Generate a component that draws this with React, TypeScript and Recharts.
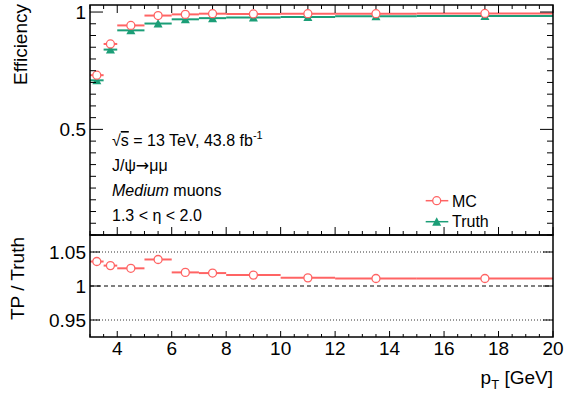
import React from "react";
import { ComposedChart, Scatter, ErrorBar, XAxis, YAxis, ReferenceLine, Legend } from "recharts";

// bin edges in pT [GeV]
const binEdges = [3, 3.5, 4, 5, 6, 7, 8, 10, 12, 15, 20];
const effMC = [0.731, 0.864, 0.943, 0.985, 0.99, 0.993, 0.992, 0.993, 0.993, 0.994];
const effTruth = [0.709, 0.84, 0.922, 0.951, 0.969, 0.974, 0.977, 0.979, 0.982, 0.983];
const ratioTP = [1.036, 1.03, 1.026, 1.039, 1.02, 1.019, 1.016, 1.012, 1.011, 1.011];

const xMajorTicks = [4, 6, 8, 10, 12, 14, 16, 18, 20];
const topYLabels = [0.5, 1];
const ratioYLabels = [0.95, 1, 1.05];

const RED = "#ff6464";
const GREEN = "#1b9e77";
const FONT = "'Liberation Sans', Arial, Helvetica, sans-serif";

const W = 567;
const PL = 90;
const PR = 553;
const TOP_H = 235;
const TOP_Y0 = 5;
const RATIO_TOP = 235;
const RATIO_H = 102;

const xMinor = Array.from({ length: 35 }, (_, i) => 3 + i * 0.5);
const topYTicks = Array.from({ length: 20 }, (_, i) => Math.round((0.05 + i * 0.05) * 100) / 100);

const bins = binEdges.slice(0, -1).map((lo, i) => {
  const hi = binEdges[i + 1];
  return { x: (lo + hi) / 2, xe: (hi - lo) / 2, mc: effMC[i], truth: effTruth[i], ratio: ratioTP[i] };
});

const near = (a: number, list: number[]) => list.some((v) => Math.abs(v - a) < 1e-6);

const makeXTick = (yBottom: number, yTop: number | null, major: number, minor: number, labels: boolean) =>
  (props: any) => {
    const { x, payload } = props;
    const isMajor = near(payload.value, xMajorTicks);
    const len = isMajor ? major : minor;
    return (
      <g>
        <line x1={x} x2={x} y1={yBottom} y2={yBottom - len} stroke="#000" strokeWidth={1} />
        {yTop !== null && <line x1={x} x2={x} y1={yTop} y2={yTop + len} stroke="#000" strokeWidth={1} />}
        {labels && isMajor && (
          <text x={x} y={yBottom + 18} textAnchor="middle" fontSize={19} fontFamily={FONT} fill="#000">
            {payload.value}
          </text>
        )}
      </g>
    );
  };

const makeYTick = (labels: number[], major: number, minor: number) => (props: any) => {
  const { y, payload } = props;
  const isMajor = near(payload.value, labels);
  const len = isMajor ? major : minor;
  return (
    <g>
      <line x1={PL} x2={PL + len} y1={y} y2={y} stroke="#000" strokeWidth={1} />
      <line x1={PR - len} x2={PR} y1={y} y2={y} stroke="#000" strokeWidth={1} />
      {isMajor && (
        <text x={PL - 4} y={y} dy="0.35em" textAnchor="end" fontSize={19} fontFamily={FONT} fill="#000">
          {payload.value}
        </text>
      )}
    </g>
  );
};

const OpenCircle = (props: any) => (
  <circle cx={props.cx} cy={props.cy} r={4} fill="#fff" stroke={RED} strokeWidth={1.3} />
);

const Triangle = (props: any) => {
  const { cx, cy } = props;
  return <polygon points={`${cx - 4.5},${cy + 4} ${cx + 4.5},${cy + 4} ${cx},${cy - 4.5}`} fill={GREEN} />;
};

const renderLegend = () => (
  <svg width={140} height={45} style={{ display: "block" }}>
    <line x1={5.7} x2={28.3} y1={10.7} y2={10.7} stroke={RED} strokeWidth={1.5} />
    <circle cx={16.7} cy={10.7} r={4} fill="#fff" stroke={RED} strokeWidth={1.3} />
    <text x={32} y={16.5} fontSize={16} fontFamily={FONT}>MC</text>
    <line x1={5.7} x2={28.3} y1={31.7} y2={31.7} stroke={GREEN} strokeWidth={1.5} />
    <polygon points="12.2,35.7 21.2,35.7 16.7,27.2" fill={GREEN} />
    <text x={32} y={37} fontSize={16} fontFamily={FONT}>Truth</text>
  </svg>
);

export default function App() {
  return (
    <div style={{ position: "absolute", left: 0, top: 0, width: W, height: 399, background: "#fff" }}>
      <div style={{ position: "absolute", left: 0, top: 0 }}>
        <ComposedChart width={W} height={TOP_H + 6} data={bins} margin={{ top: TOP_Y0, right: W - PR, bottom: 0, left: 0 }}>
          <XAxis
            dataKey="x"
            type="number"
            domain={[3, 20]}
            ticks={xMinor}
            interval={0}
            height={6}
            axisLine={false}
            tickLine={false}
            allowDataOverflow
            tick={makeXTick(TOP_H, TOP_Y0, 8, 4, false)}
          />
          <YAxis
            type="number"
            domain={[0.05, 1.03]}
            ticks={topYTicks}
            interval={0}
            width={PL}
            axisLine={false}
            tickLine={false}
            allowDataOverflow
            tick={makeYTick(topYLabels, 13, 6)}
          />
          <Legend
            layout="vertical"
            align="center"
            verticalAlign="middle"
            content={renderLegend}
            wrapperStyle={{ left: 420, top: 190, width: 140, height: 45 }}
          />
          <Scatter name="Truth" dataKey="truth" shape={<Triangle />} isAnimationActive={false}>
            <ErrorBar dataKey="xe" direction="x" width={0} stroke={GREEN} strokeWidth={2} />
          </Scatter>
          <Scatter name="MC" dataKey="mc" shape={<OpenCircle />} isAnimationActive={false}>
            <ErrorBar dataKey="xe" direction="x" width={0} stroke={RED} strokeWidth={2} />
          </Scatter>
        </ComposedChart>
      </div>

      <div style={{ position: "absolute", left: 0, top: RATIO_TOP }}>
        <ComposedChart width={W} height={164} data={bins} margin={{ top: 0, right: W - PR, bottom: 22, left: 0 }}>
          <XAxis
            dataKey="x"
            type="number"
            domain={[3, 20]}
            ticks={xMinor}
            interval={0}
            height={164 - 22 - RATIO_H}
            axisLine={false}
            tickLine={false}
            allowDataOverflow
            tick={makeXTick(RATIO_H, null, 6, 3, true)}
          />
          <YAxis
            type="number"
            domain={[0.925, 1.075]}
            ticks={ratioYLabels}
            interval={0}
            width={PL}
            axisLine={false}
            tickLine={false}
            allowDataOverflow
            tick={makeYTick(ratioYLabels, 10, 5)}
          />
          <ReferenceLine y={1.05} stroke="#333" strokeWidth={1} strokeDasharray="1 2" />
          <ReferenceLine y={1} stroke="#000" strokeWidth={1} strokeDasharray="4 3" />
          <ReferenceLine y={0.95} stroke="#333" strokeWidth={1} strokeDasharray="1 2" />
          <Scatter name="TP / Truth" dataKey="ratio" shape={<OpenCircle />} isAnimationActive={false}>
            <ErrorBar dataKey="xe" direction="x" width={0} stroke={RED} strokeWidth={2} />
          </Scatter>
        </ComposedChart>
      </div>

      {/* frames, axis titles and annotations */}
      <svg width={W} height={399} style={{ position: "absolute", left: 0, top: 0, pointerEvents: "none" }}>
        <rect x={PL} y={TOP_Y0} width={PR - PL} height={TOP_H - TOP_Y0} fill="none" stroke="#000" strokeWidth={1.5} />
        <rect x={PL} y={RATIO_TOP} width={PR - PL} height={RATIO_H} fill="none" stroke="#000" strokeWidth={1.5} />
        <text transform="translate(27,4) rotate(-90)" textAnchor="end" fontSize={19} fontFamily={FONT}>
          Efficiency
        </text>
        <text transform="translate(24,237) rotate(-90)" textAnchor="end" fontSize={19} fontFamily={FONT}>
          TP / Truth
        </text>
        <text x={PR} y={384} textAnchor="end" fontSize={19} fontFamily={FONT}>
          p<tspan dy={5} fontSize={13}>T</tspan>
          <tspan dy={-5}> [GeV]</tspan>
        </text>
        <g fontSize={16} fontFamily={FONT}>
          <text x={112} y={146}>
            √<tspan style={{ textDecoration: "overline" }}>s</tspan> = 13 TeV, 43.8 fb
            <tspan dy={-7} fontSize={11}>-1</tspan>
          </text>
          <text x={112} y={171}>
            J/ψ<tspan fontFamily="'DejaVu Sans'">→</tspan>μμ
          </text>
          <text x={112} y={196}>
            <tspan fontStyle="italic">Medium</tspan> muons
          </text>
          <text x={112} y={221}>1.3 &lt; η &lt; 2.0</text>
        </g>
      </svg>
    </div>
  );
}
